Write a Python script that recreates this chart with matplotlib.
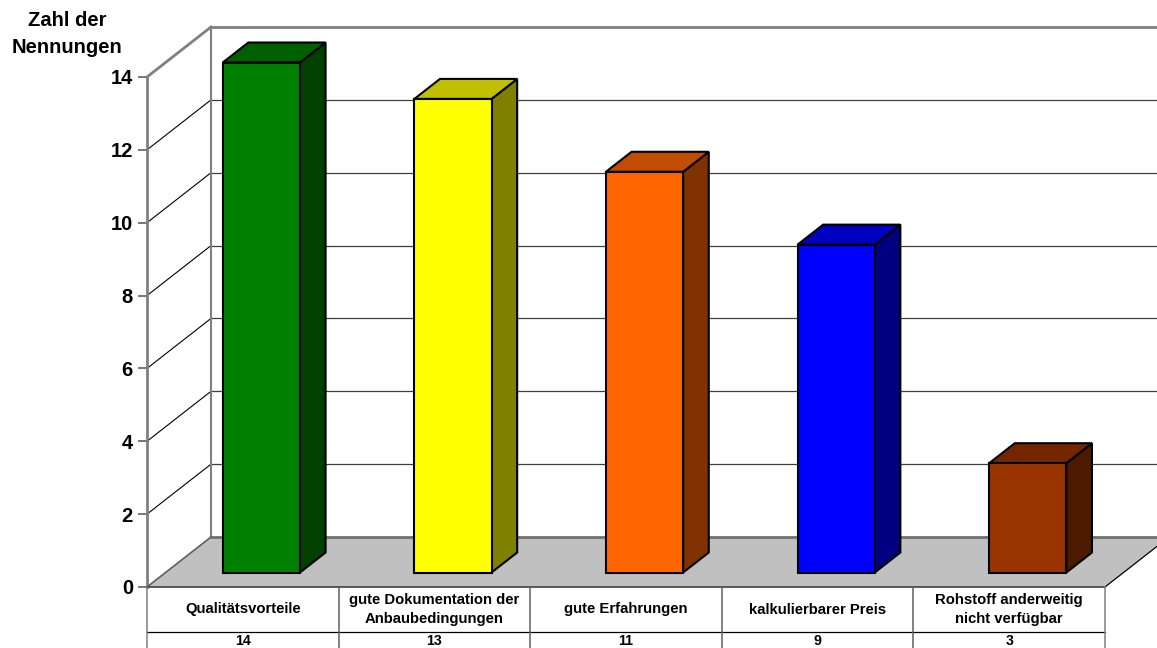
import numpy as np
import matplotlib
matplotlib.use("Agg")
import matplotlib.pyplot as plt
from matplotlib.patches import Polygon

plt.rcParams["font.family"] = ["Liberation Sans", "DejaVu Sans"]
plt.rcParams["font.weight"] = "bold"

categories = [
    "Qualitätsvorteile",
    "gute Dokumentation der\nAnbaubedingungen",
    "gute Erfahrungen",
    "kalkulierbarer Preis",
    "Rohstoff anderweitig\nnicht verfügbar",
]
values = [14, 13, 11, 9, 3]
front_colours = ["#008000", "#FFFF00", "#FF6600", "#0000FF", "#993300"]
top_colours = ["#006000", "#C0C000", "#C04D00", "#0000C0", "#732600"]
side_colours = ["#004000", "#808000", "#803300", "#000080", "#4D1A00"]
y_ticks = [0, 2, 4, 6, 8, 10, 12, 14]

W, H = 1157, 648
fig = plt.figure(figsize=(W / 100, H / 100), dpi=100)
ax = fig.add_axes([147 / W, (H - 587) / H, 958 / W, 510 / H])
ax.set_xlim(0, len(categories))
ax.set_ylim(0, 14)
ax.patch.set_visible(False)

# oblique offset of the back wall, in data units
dx = 64 / (958 / 5)
dy = 50 / (510 / 14)
GRID = "#808080"


def skew(x, y, d):
    # d = 0 is the front plane, d = 1 the back wall
    return (x + dx * d, y + dy * d)


def face(points, colour, z, lw=1.5, edge="black"):
    ax.add_patch(Polygon([skew(*p) for p in points], closed=True, facecolor=colour,
                         edgecolor=edge, lw=lw, zorder=z, clip_on=False, joinstyle="miter"))


n = len(categories)

# floor
face([(0, 0, 0), (n, 0, 0), (n, 0, 1), (0, 0, 1)], "#C0C0C0", 1, lw=0)

# back wall and side wall gridlines
for v in y_ticks[1:]:
    xs, ys = zip(skew(0, v, 0), skew(0, v, 1), skew(n, v, 1))
    ax.plot(xs[:2], ys[:2], color="black", lw=0.8, zorder=2, clip_on=False)
    ax.plot(xs[1:], ys[1:], color="#404040", lw=0.9, zorder=2, clip_on=False)

# walls outline
for a, b, c, lw in [
    ((0, 0, 0), (0, 14, 0), GRID, 2),
    ((0, 14, 0), (0, 14, 1), GRID, 2),
    ((0, 14, 1), (n, 14, 1), GRID, 2),
    ((0, 0, 1), (0, 14, 1), GRID, 1.5),
    ((0, 0, 1), (n, 0, 1), "#707070", 2),
    ((0, 0, 0), (0, 0, 1), "#606060", 1.2),
    ((n, 0, 0), (n, 0, 1), "black", 0.9),
]:
    p, q = skew(*a), skew(*b)
    ax.plot([p[0], q[0]], [p[1], q[1]], color=c, lw=lw, zorder=2, clip_on=False)

# bars
bar_w = 0.403
d0, d1 = 0.29, 0.69
for i, v in enumerate(values):
    x0 = i + 0.5 - bar_w / 2
    x1 = x0 + bar_w
    face([(x0, 0, d0), (x1, 0, d0), (x1, v, d0), (x0, v, d0)], front_colours[i], 5)
    face([(x1, 0, d0), (x1, 0, d1), (x1, v, d1), (x1, v, d0)], side_colours[i], 4)
    face([(x0, v, d0), (x1, v, d0), (x1, v, d1), (x0, v, d1)], top_colours[i], 4)

# data table under the plot
row1 = -45 / (510 / 14)
row2 = -70 / (510 / 14)
ax.plot([0, n], [0, 0], color="#404040", lw=1.2, zorder=3, clip_on=False)
ax.plot([0, n], [row1, row1], color="black", lw=0.9, zorder=3, clip_on=False)
for i in range(n + 1):
    ax.plot([i, i], [0, row2], color="#606060" if 0 < i < n else "#808080", lw=1.1,
            zorder=3, clip_on=False)
for i, (c, v) in enumerate(zip(categories, values)):
    ax.text(i + 0.5, row1 / 2, c, ha="center", va="center", fontsize=10.7, linespacing=1.4,
            clip_on=False)
    ax.text(i + 0.5, row1 - 0.05, str(v), ha="center", va="top", fontsize=10.2, clip_on=False)

# value axis
ax.set_xticks([])
ax.set_yticks(y_ticks)
ax.set_yticklabels([str(t) for t in y_ticks], fontsize=14.5, fontweight="bold")
ax.tick_params(axis="y", length=6.5, width=1.2, color="#606060", pad=3.6)
for s in ax.spines.values():
    s.set_visible(False)

fig.text(67 / W, 1 - 34 / H, "Zahl der\nNennungen", ha="center", va="center", fontsize=14.5,
         fontweight="bold", linespacing=1.5)

fig.savefig("out.png", dpi=100, facecolor="white")
